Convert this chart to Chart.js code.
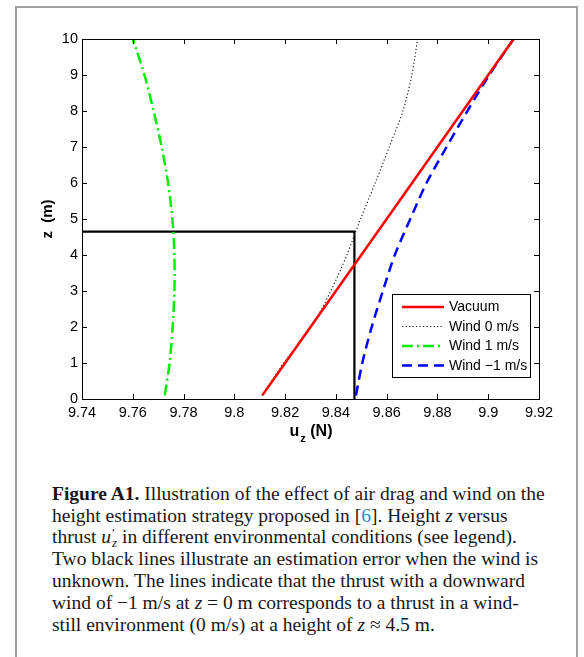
<!DOCTYPE html>
<html>
<head>
<meta charset="utf-8">
<script src="https://cdn.jsdelivr.net/npm/chart.js@4.4.1/dist/chart.umd.min.js"></script>
<style>
  html, body { margin: 0; padding: 0; background: #fff; }
  body { width: 584px; height: 657px; position: relative; overflow: hidden; }
  .frame {
    position: absolute; left: 15px; top: 6px; width: 559px; height: 700px;
    border: 2px solid #a0a0a0; border-bottom: none;
  }
  #plot { position: absolute; left: 0; top: 0; }
  .caption {
    position: absolute; left: 52px; top: 483px; width: 520px;
    font-family: 'Liberation Serif', 'DejaVu Serif', serif;
    font-size: 19.5px; line-height: 21.7px; color: #1a1718;
  }
  .caption div { white-space: nowrap; }
  .caption .ref { color: #2a8cc4; }
  .ss {
    display: inline-block; vertical-align: -4px; font-size: 13px;
    line-height: 10px; margin-left: 1px;
  }
</style>
</head>
<body>
<div class="frame"></div>
<canvas id="plot" width="584" height="460"></canvas>
<div class="caption">
  <div><b>Figure A1.</b> Illustration of the effect of air drag and wind on the</div>
  <div>height estimation strategy proposed in [<span class="ref">6</span>]. Height <i>z</i> versus</div>
  <div>thrust <i>u</i><span class="ss">′<br><i>z</i></span> in different environmental conditions (see legend).</div>
  <div>Two black lines illustrate an estimation error when the wind is</div>
  <div>unknown. The lines indicate that the thrust with a downward</div>
  <div>wind of −1 m/s at <i>z</i> = 0 m corresponds to a thrust in a wind-</div>
  <div>still environment (0 m/s) at a height of <i>z</i> ≈ 4.5 m.</div>
</div>
<script>
// heights (m) at which each thrust curve is sampled
const zLevels = [0.1, 1, 2, 3, 4, 5, 6, 7, 8, 9, 10];

// thrust u_z (N) per condition
const uVacuum   = [9.811, 9.820, 9.830, 9.840, 9.850, 9.860, 9.870, 9.880, 9.890, 9.900, 9.910];
const uWind0    = [9.811, 9.8195, 9.8303, 9.838, 9.8443, 9.8497, 9.8555, 9.861, 9.8664, 9.8699, 9.8722];
const uWind1    = [9.7726, 9.7745, 9.7757, 9.7764, 9.7764, 9.7756, 9.7739, 9.7714, 9.7682, 9.7646, 9.7600];
const uWindNeg1 = [9.8479, 9.8504, 9.8541, 9.8585, 9.8632, 9.8693, 9.8757, 9.8836, 9.8918, 9.9004, 9.910];

// estimation error: horizontal from the axis, then down to z = 0
const estU = [9.74, 9.8473, 9.8473];
const estZ = [4.65, 4.65, 0];

const xTicks = [9.74, 9.76, 9.78, 9.80, 9.82, 9.84, 9.86, 9.88, 9.90, 9.92];
const xTickLabels = ['9.74', '9.76', '9.78', '9.8', '9.82', '9.84', '9.86', '9.88', '9.9', '9.92'];
const yTicks = [0, 1, 2, 3, 4, 5, 6, 7, 8, 9, 10];
const yTickLabels = ['0', '1', '2', '3', '4', '5', '6', '7', '8', '9', '10'];

const sansFont = "'Liberation Sans', Arial, sans-serif";

function toPoints(us, zs) {
    return us.map((u, i) => ({ x: u, y: zs[i] }));
}

// box round the axes with inward ticks on all four sides
const boxPlugin = {
    id: 'box',
    afterDatasetsDraw(chart) {
        const { ctx, chartArea: a, scales } = chart;
        const len = 5;
        ctx.save();
        ctx.strokeStyle = '#000';
        ctx.lineWidth = 1;
        ctx.strokeRect(Math.round(a.left) + 0.5, Math.round(a.top) + 0.5,
            Math.round(a.right - a.left), Math.round(a.bottom - a.top));
        ctx.beginPath();
        scales.x.ticks.forEach(t => {
            const px = Math.round(scales.x.getPixelForValue(t.value)) + 0.5;
            ctx.moveTo(px, a.bottom); ctx.lineTo(px, a.bottom - len);
            ctx.moveTo(px, a.top); ctx.lineTo(px, a.top + len);
        });
        scales.y.ticks.forEach(t => {
            const py = Math.round(scales.y.getPixelForValue(t.value)) + 0.5;
            ctx.moveTo(a.left, py); ctx.lineTo(a.left + len, py);
            ctx.moveTo(a.right, py); ctx.lineTo(a.right - len, py);
        });
        ctx.stroke();
        ctx.restore();
    }
};

// axis titles: u_z needs a subscript so both are drawn by hand
const titlePlugin = {
    id: 'titles',
    afterDraw(chart) {
        const { ctx, chartArea: a } = chart;
        ctx.save();
        ctx.fillStyle = '#000';
        ctx.textBaseline = 'alphabetic';

        const big = 'bold 16px ' + sansFont;
        const small = 'bold 11px ' + sansFont;
        ctx.font = big;
        const wU = ctx.measureText('u').width;
        const wRest = ctx.measureText(' (N)').width;
        ctx.font = small;
        const wZ = ctx.measureText('z').width;
        let x = (a.left + a.right) / 2 - (wU + wZ + wRest) / 2;
        const base = 436;
        ctx.font = big;
        ctx.fillText('u', x, base);
        x += wU + 1;
        ctx.font = small;
        ctx.fillText('z', x, base + 6);
        x += wZ;
        ctx.font = big;
        ctx.fillText(' (N)', x, base);

        ctx.translate(52, (a.top + a.bottom) / 2);
        ctx.rotate(-Math.PI / 2);
        ctx.textAlign = 'center';
        ctx.font = 'bold 15px ' + sansFont;
        ctx.fillText('z  (m)', 0, 0);
        ctx.restore();
    }
};

// legend box in the lower right of the axes
const legendPlugin = {
    id: 'boxLegend',
    afterDraw(chart) {
        const { ctx } = chart;
        const items = chart.data.datasets.filter(d => d.label);
        const left = 392.5, top = 294.5, w = 138, h = 83;
        ctx.save();
        ctx.fillStyle = '#fff';
        ctx.fillRect(left, top, w, h);
        ctx.strokeStyle = '#000';
        ctx.lineWidth = 1;
        ctx.strokeRect(left, top, w, h);
        ctx.font = '14px ' + sansFont;
        ctx.textBaseline = 'middle';
        items.forEach((d, i) => {
            const y = 307 + i * 19.5;
            ctx.beginPath();
            ctx.strokeStyle = d.borderColor;
            ctx.lineWidth = d.borderWidth;
            ctx.setLineDash(d.borderDash || []);
            ctx.moveTo(402, y);
            ctx.lineTo(444, y);
            ctx.stroke();
            ctx.setLineDash([]);
            ctx.fillStyle = '#000';
            ctx.fillText(d.label, 449, y + 0.5);
        });
        ctx.restore();
    }
};

new Chart(document.getElementById('plot').getContext('2d'), {
    type: 'scatter',
    data: {
        datasets: [
            {
                label: 'Vacuum',
                data: toPoints(uVacuum, zLevels),
                borderColor: '#ff0000',
                borderWidth: 2.5,
                tension: 0.3
            },
            {
                label: 'Wind 0 m/s',
                data: toPoints(uWind0, zLevels),
                borderColor: '#222222',
                borderWidth: 1.2,
                borderDash: [1.2, 2.3],
                tension: 0.3
            },
            {
                label: 'Wind 1 m/s',
                data: toPoints(uWind1, zLevels),
                borderColor: '#00ee00',
                borderWidth: 2.5,
                borderDash: [11, 4, 2, 4],
                tension: 0.3
            },
            {
                label: 'Wind \u22121 m/s',
                data: toPoints(uWindNeg1, zLevels),
                borderColor: '#0000ff',
                borderWidth: 2.5,
                borderDash: [10, 6],
                tension: 0.3
            },
            {
                data: toPoints(estU, estZ),
                borderColor: '#000',
                borderWidth: 2.2,
                tension: 0
            }
        ].map(d => Object.assign({ showLine: true, pointRadius: 0, borderCapStyle: 'butt' }, d))
    },
    options: {
        responsive: false,
        animation: false,
        events: [],
        layout: { padding: { left: 0, top: 39, right: 45, bottom: 0 } },
        plugins: {
            legend: { display: false },
            tooltip: { enabled: false }
        },
        scales: {
            x: {
                type: 'linear',
                min: 9.74,
                max: 9.92,
                grid: { display: false, drawTicks: false },
                border: { display: false },
                afterBuildTicks: s => { s.ticks = xTicks.map(v => ({ value: v })); },
                afterFit: s => { s.height = 61; },
                ticks: {
                    autoSkip: false,
                    maxRotation: 0,
                    padding: 5,
                    color: '#000',
                    font: { family: sansFont, size: 14.5 },
                    callback: (v, i) => xTickLabels[i]
                }
            },
            y: {
                type: 'linear',
                min: 0,
                max: 10,
                grid: { display: false, drawTicks: false },
                border: { display: false },
                afterBuildTicks: s => { s.ticks = yTicks.map(v => ({ value: v })); },
                afterFit: s => { s.width = 82; },
                ticks: {
                    autoSkip: false,
                    padding: 4,
                    color: '#000',
                    font: { family: sansFont, size: 14.5 },
                    callback: (v, i) => yTickLabels[i]
                }
            }
        }
    },
    plugins: [boxPlugin, titlePlugin, legendPlugin]
});
</script>
</body>
</html>
